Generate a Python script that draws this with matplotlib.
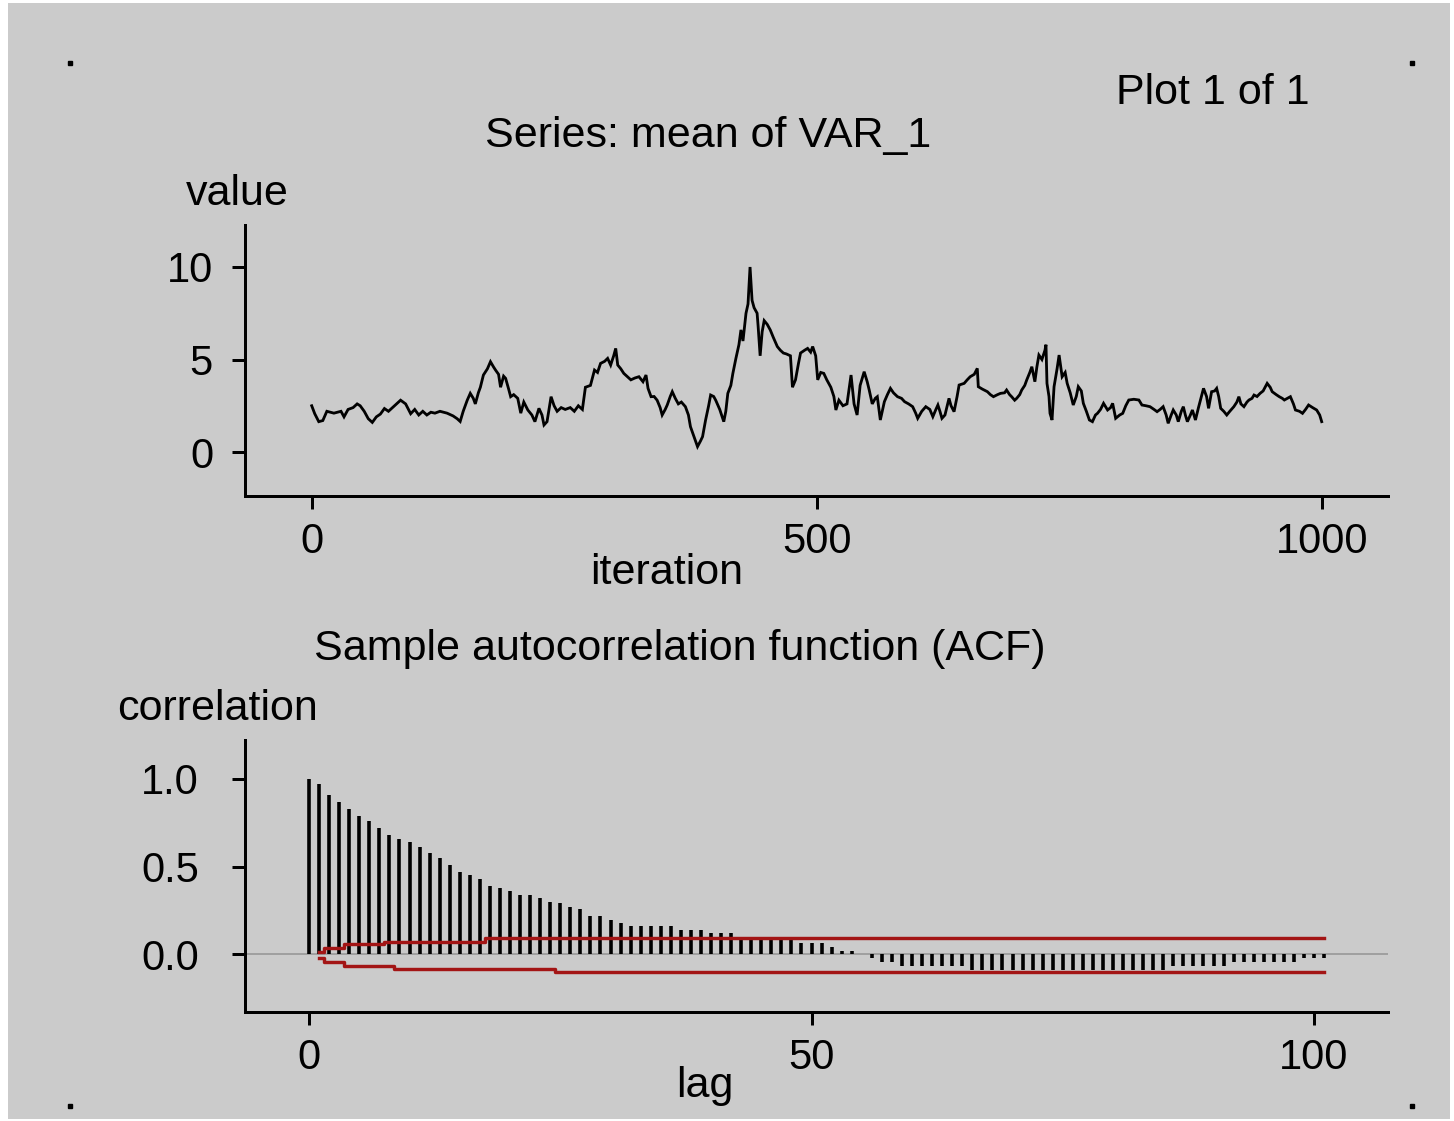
import matplotlib
matplotlib.use("Agg")
import matplotlib.pyplot as plt
from matplotlib.patches import Rectangle
from matplotlib.lines import Line2D

plt.rcParams['font.family'] = ['Liberation Sans', 'DejaVu Sans']

# ---------------- data ----------------
trace_iter = [0, 3, 7, 11, 15, 22, 29, 32, 36, 41, 45, 48, 52, 56, 60, 64, 68, 72, 76, 80,
              84, 88, 93, 98, 102, 106, 110, 114, 118, 122, 127, 134, 140, 144, 147, 150, 154, 157, 160, 162,
              165, 167, 170, 174, 177, 180, 182, 185, 187, 190, 192, 195, 197, 200, 204, 207, 210, 214, 218, 221,
              225, 228, 230, 233, 237, 240, 243, 247, 251, 256, 260, 264, 268, 271, 276, 280, 283, 286, 290, 293,
              296, 299, 301, 303, 306, 309, 312, 316, 320, 324, 328, 331, 333, 336, 339, 342, 345, 347, 350, 352,
              355, 357, 360, 363, 366, 370, 373, 375, 378, 382, 385, 387, 390, 393, 395, 398, 400, 404, 408, 410,
              412, 415, 417, 420, 423, 425, 427, 430, 432, 434, 436, 438, 441, 442, 444, 446, 448, 451, 454, 457,
              461, 464, 467, 470, 474, 476, 479, 482, 484, 488, 491, 494, 496, 499, 501, 504, 507, 510, 514, 517,
              519, 522, 526, 530, 534, 537, 540, 543, 547, 550, 552, 555, 558, 560, 563, 567, 570, 573, 576, 580,
              584, 587, 591, 595, 598, 600, 604, 608, 612, 615, 618, 620, 622, 624, 627, 631, 633, 636, 639, 641,
              646, 649, 652, 656, 659, 660, 664, 669, 672, 675, 679, 682, 686, 688, 691, 693, 696, 698, 701, 703,
              706, 708, 711, 713, 716, 718, 720, 723, 726, 727, 728, 730, 731, 733, 735, 738, 740, 743, 746, 748,
              751, 754, 757, 759, 762, 764, 767, 770, 773, 776, 778, 781, 784, 788, 791, 793, 796, 800, 803, 806,
              809, 814, 819, 822, 826, 830, 834, 837, 840, 843, 846, 848, 851, 853, 856, 858, 861, 863, 865, 867,
              870, 872, 875, 878, 880, 883, 886, 888, 891, 894, 896, 898, 900, 903, 906, 909, 913, 916, 918, 920,
              923, 926, 928, 931, 933, 936, 939, 942, 946, 949, 951, 955, 958, 961, 963, 966, 969, 972, 974, 978,
              981, 984, 987, 991, 995, 998, 1000]
trace_value = [2.5, 2.07, 1.64, 1.7, 2.2, 2.1, 2.2, 1.9, 2.3, 2.4, 2.6, 2.5, 2.2, 1.8, 1.6, 1.9, 2.05, 2.35, 2.2, 2.4,
               2.6, 2.8, 2.6, 2.07, 2.3, 2.0, 2.2, 2.0, 2.15, 2.1, 2.2, 2.1, 1.95, 1.8, 1.65, 2.2, 2.8, 3.17, 2.9, 2.6,
               3.2, 3.5, 4.16, 4.5, 4.88, 4.6, 4.43, 4.2, 3.5, 4.1, 3.98, 3.4, 2.99, 3.1, 2.9, 2.1, 2.7, 2.27, 2.0, 1.64,
               2.36, 2.0, 1.46, 1.64, 2.99, 2.5, 2.2, 2.4, 2.3, 2.4, 2.2, 2.5, 2.3, 3.5, 3.6, 4.43, 4.3, 4.79, 4.9, 5.06,
               4.7, 5.2, 5.6, 4.7, 4.5, 4.25, 4.1, 3.9, 4.0, 4.07, 3.8, 4.16, 3.44, 2.99, 3.0, 2.8, 2.4, 2.0, 2.3, 2.54,
               3.0, 3.26, 2.9, 2.6, 2.7, 2.45, 2.0, 1.37, 0.9, 0.29, 0.6, 0.83, 1.73, 2.5, 3.08, 3.0, 2.8, 2.3, 1.64, 2.2,
               3.17, 3.6, 4.25, 5.06, 5.8, 6.6, 6.0, 7.5, 8.0, 10.0, 8.2, 7.8, 7.5, 6.8, 5.2, 6.5, 7.1, 6.9, 6.6, 6.2,
               5.7, 5.5, 5.35, 5.3, 5.2, 3.5, 3.9, 4.8, 5.35, 5.5, 5.6, 5.4, 5.7, 5.2, 3.9, 4.3, 4.25, 3.9, 3.5, 3.0,
               2.27, 2.8, 2.5, 2.6, 4.16, 2.6, 2.0, 3.6, 4.34, 3.8, 3.35, 2.6, 2.9, 2.99, 1.73, 2.72, 3.1, 3.44, 3.2, 2.99,
               2.9, 2.72, 2.6, 2.45, 2.1, 1.82, 2.2, 2.45, 2.3, 1.91, 2.3, 2.54, 2.2, 1.82, 2.0, 2.9, 2.5, 2.18, 3.0, 3.62,
               3.71, 3.9, 4.07, 4.2, 4.52, 3.53, 3.4, 3.26, 3.1, 2.99, 3.1, 3.17, 3.2, 3.35, 3.1, 2.99, 2.8, 2.9, 3.1, 3.35,
               3.6, 3.9, 4.3, 4.61, 3.8, 4.6, 5.24, 5.0, 5.5, 5.8, 3.71, 3.0, 2.09, 1.73, 3.53, 4.5, 5.24, 4.07, 4.3, 3.71,
               3.2, 2.54, 3.0, 3.53, 3.3, 2.63, 2.2, 1.73, 1.64, 2.0, 2.09, 2.3, 2.63, 2.27, 2.4, 2.63, 1.82, 2.0, 2.09, 2.5,
               2.81, 2.85, 2.81, 2.54, 2.5, 2.45, 2.3, 2.18, 2.3, 2.45, 2.0, 1.55, 2.0, 2.27, 2.0, 1.64, 2.2, 2.45, 2.0, 1.64,
               2.0, 2.27, 1.73, 2.4, 2.81, 3.44, 3.0, 2.36, 3.26, 3.3, 3.44, 3.0, 2.36, 2.2, 2.0, 2.2, 2.45, 2.7, 2.99, 2.6,
               2.45, 2.7, 2.81, 2.9, 3.08, 3.0, 3.17, 3.3, 3.71, 3.5, 3.26, 3.1, 2.99, 2.9, 2.81, 2.9, 2.99, 2.6, 2.27, 2.2,
               2.09, 2.3, 2.54, 2.4, 2.27, 2.0, 1.64]

acf_lag = list(range(0, 102))
acf_value = [1.0, 0.97, 0.91, 0.87, 0.83, 0.79, 0.76, 0.72, 0.68, 0.66,
             0.64, 0.61, 0.58, 0.55, 0.51, 0.47, 0.45, 0.43, 0.39, 0.38,
             0.36, 0.34, 0.34, 0.32, 0.30, 0.29, 0.27, 0.255, 0.215, 0.215,
             0.195, 0.18, 0.16, 0.16, 0.16, 0.16, 0.16, 0.14, 0.14, 0.14,
             0.12, 0.12, 0.12, 0.08, 0.08, 0.08, 0.08, 0.08, 0.08, 0.065,
             0.065, 0.065, 0.04, 0.02, 0.02, 0.0, -0.02, -0.045, -0.045, -0.07,
             -0.07, -0.07, -0.07, -0.07, -0.07, -0.07, -0.09, -0.09, -0.09, -0.09,
             -0.09, -0.09, -0.09, -0.09, -0.09, -0.09, -0.09, -0.09, -0.09, -0.09,
             -0.09, -0.09, -0.09, -0.09, -0.09, -0.09, -0.07, -0.07, -0.07, -0.07,
             -0.07, -0.07, -0.045, -0.045, -0.045, -0.045, -0.045, -0.045, -0.045, -0.02,
             -0.02, -0.02]

band_lag = list(range(1, 102))
band_upper = [0.013, 0.033, 0.033, 0.056, 0.056, 0.056, 0.056] + [0.071] * 10 + [0.09] * 84
band_lower = [-0.025, -0.043, -0.043, -0.066, -0.066, -0.066, -0.066, -0.066] + [-0.085] * 16 + [-0.10] * 77

top_xticks = [0, 500, 1000]
top_yticks = [0, 5, 10]
bot_xticks = [0, 50, 100]
bot_yticks = [0.0, 0.5, 1.0]
bot_yticklabels = ["0.0", "0.5", "1.0"]

# ---------------- figure ----------------
W, H = 1454, 1121
fig = plt.figure(figsize=(W / 100, H / 100), dpi=100, facecolor="white")
BG = "#cbcbcb"
fig.add_artist(Rectangle((8 / W, 1 - 1119 / H), (1450 - 8) / W, (1119 - 3) / H,
                         transform=fig.transFigure, facecolor=BG, edgecolor="none", zorder=-10))


def fx(px):
    return px / W


def fy(py):
    return 1 - py / H


FS = 31
TICK_FS = 30
PX = 72 / 100  # points per pixel


def style_axes(ax, ypad):
    ax.set_facecolor("none")
    for s in ("top", "right"):
        ax.spines[s].set_visible(False)
    for s in ("left", "bottom"):
        ax.spines[s].set_linewidth(3 * PX)
        ax.spines[s].set_color("black")
    ax.tick_params(axis="both", direction="out", length=13 * PX, width=3 * PX,
                   labelsize=TICK_FS, colors="black")
    ax.tick_params(axis="y", pad=ypad * PX)
    ax.tick_params(axis="x", pad=13 * PX)


# top axes: trace
ax1 = fig.add_axes([fx(245), fy(496), fx(1388) - fx(245), fy(225) - fy(496)])
style_axes(ax1, 19)
ax1.plot(trace_iter, trace_value, color="black", lw=2.8 * PX, solid_joinstyle="miter")
ax1.set_xlim((245 - 311.7) / 1.01, (1388 - 311.7) / 1.01)
ax1.set_ylim((452 - 496) / 18.5, (452 - 225) / 18.5)
ax1.set_xticks(top_xticks)
ax1.set_yticks(top_yticks)

# bottom axes: ACF
ax2 = fig.add_axes([fx(245), fy(1012), fx(1388) - fx(245), fy(740) - fy(1012)])
style_axes(ax2, 33)
ax2.set_xlim((245 - 309) / 10.05, (1388 - 309) / 10.05)
ax2.set_ylim((954 - 1012) / 175, (954 - 740) / 175)
ax2.axhline(0, color="#a0a0a0", lw=2 * PX, zorder=1)
ax2.vlines(acf_lag, 0, acf_value, color="black", lw=3.6 * PX, zorder=2)
ax2.plot(band_lag, band_upper, color="#a31515", lw=3.4 * PX, drawstyle="steps-mid", zorder=3)
ax2.plot(band_lag, band_lower, color="#a31515", lw=3.4 * PX, drawstyle="steps-mid", zorder=3)
ax2.set_xticks(bot_xticks)
ax2.set_yticks(bot_yticks)
ax2.set_yticklabels(bot_yticklabels)

# texts
fig.text(fx(708), fy(147), "Series: mean of VAR_1", fontsize=FS, ha="center", va="baseline")
fig.text(fx(1213), fy(104), "Plot 1 of 1", fontsize=FS, ha="center", va="baseline")
fig.text(fx(237), fy(205), "value", fontsize=FS, ha="center", va="baseline")
fig.text(fx(667), fy(584), "iteration", fontsize=FS, ha="center", va="baseline")
fig.text(fx(680), fy(660), "Sample autocorrelation function (ACF)", fontsize=FS, ha="center", va="baseline")
fig.text(fx(217), fy(720), "correlation", fontsize=FS, ha="center", va="baseline")
fig.text(fx(705), fy(1097), "lag", fontsize=FS, ha="center", va="baseline")

# corner dots
for (px, py) in [(70, 63), (1412, 63), (70, 1106), (1412, 1106)]:
    fig.add_artist(Line2D([fx(px)], [fy(py)], marker="s", markersize=2.2, color="black",
                          transform=fig.transFigure))

fig.savefig("out.png", dpi=100, facecolor="white")
